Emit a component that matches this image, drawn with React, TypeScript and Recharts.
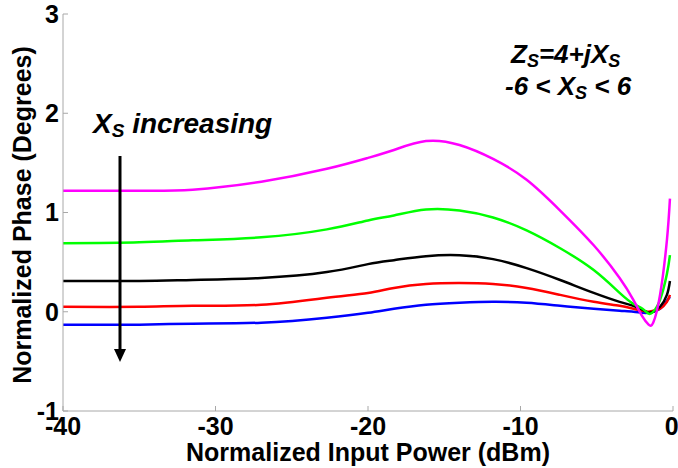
import React from 'react'
import { LineChart, Line, XAxis, YAxis, Label } from 'recharts'

// input power sweep (dBm)
const powerDbm = [-40, -35, -31.5, -27, -22.7, -20, -18.3, -16.2, -14, -11.8, -9.6, -7.4, -5.2, -3.5, -2.6, -2, -1.6, -1.3, -0.85, -0.4, -0.2]

// normalized phase (deg), one list per source reactance, top to bottom
const phaseMagenta = [1.22, 1.22, 1.23, 1.31, 1.44, 1.55, 1.63, 1.72, 1.68, 1.54, 1.33, 1.02, 0.67, 0.34, 0.12, -0.05, -0.13, -0.11, 0.17, 0.72, 1.14]
const phaseGreen = [0.69, 0.7, 0.72, 0.75, 0.83, 0.92, 0.97, 1.03, 1.02, 0.95, 0.82, 0.64, 0.42, 0.19, 0.08, 0.03, -0.02, 0.0, 0.12, 0.38, 0.57]
const phaseBlack = [0.31, 0.31, 0.32, 0.34, 0.4, 0.48, 0.52, 0.56, 0.57, 0.53, 0.44, 0.32, 0.19, 0.1, 0.06, 0.02, -0.01, 0.0, 0.05, 0.17, 0.31]
const phaseRed = [0.05, 0.05, 0.06, 0.07, 0.14, 0.19, 0.24, 0.28, 0.29, 0.28, 0.24, 0.17, 0.1, 0.06, 0.03, 0.01, 0.0, 0.01, 0.03, 0.1, 0.17]
const phaseBlue = [-0.13, -0.13, -0.12, -0.11, -0.06, -0.01, 0.03, 0.07, 0.09, 0.1, 0.09, 0.06, 0.03, 0.01, 0.0, -0.01, -0.01, 0.0, 0.03, 0.11, 0.15]

const xTicks = [-40, -30, -20, -10, 0]
const yTicks = [-1, 0, 1, 2, 3]

const FONT = '"Liberation Sans", Arial, sans-serif'
const FRAME = '#a8a8a8'

const data = powerDbm.map((p, i) => ({
  p,
  magenta: phaseMagenta[i],
  green: phaseGreen[i],
  black: phaseBlack[i],
  red: phaseRed[i],
  blue: phaseBlue[i],
}))

const tickFont = { fontSize: 25, fontWeight: 'bold', fill: '#000', fontFamily: FONT }

export default function App() {
  return (
    <div style={{ position: 'absolute', left: 0, top: 0, width: 678, height: 468, background: '#fff' }}>
      <LineChart
        width={678}
        height={468}
        data={data}
        margin={{ top: 14, right: 5, left: 0, bottom: 0 }}
      >
        <XAxis
          dataKey="p"
          type="number"
          domain={[-40, 0]}
          ticks={xTicks}
          height={57}
          stroke={FRAME}
          tickSize={-5}
          tickMargin={11}
          tick={tickFont}
        >
          <Label
            content={() => (
              <text x={368} y={461} textAnchor="middle" fontSize={25} fontWeight="bold" fontFamily={FONT} fill="#000">
                Normalized Input Power (dBm)
              </text>
            )}
          />
        </XAxis>
        <XAxis
          xAxisId="top"
          dataKey="p"
          type="number"
          orientation="top"
          domain={[-40, 0]}
          ticks={xTicks}
          height={0}
          stroke={FRAME}
          tickSize={-5}
          tick={false}
        />
        <YAxis
          type="number"
          domain={[-1, 3]}
          ticks={yTicks}
          width={63}
          stroke={FRAME}
          tickSize={-5}
          tickMargin={9}
          tick={tickFont}
        >
          <Label
            content={() => (
              <text
                x={31}
                y={215}
                transform="rotate(-90 31 215)"
                textAnchor="middle"
                fontSize={25}
                fontWeight="bold"
                fontFamily={FONT}
                fill="#000"
              >
                Normalized Phase (Degrees)
              </text>
            )}
          />
        </YAxis>
        <YAxis
          yAxisId="right"
          orientation="right"
          type="number"
          domain={[-1, 3]}
          ticks={yTicks}
          width={0}
          stroke={FRAME}
          tickSize={-5}
          tick={false}
        />
        <Line dataKey="blue" type="natural" stroke="#0000ff" strokeWidth={2.5} dot={false} isAnimationActive={false} />
        <Line dataKey="red" type="natural" stroke="#ff0000" strokeWidth={2.5} dot={false} isAnimationActive={false} />
        <Line dataKey="black" type="natural" stroke="#000000" strokeWidth={2.5} dot={false} isAnimationActive={false} />
        <Line dataKey="green" type="natural" stroke="#00ff00" strokeWidth={2.5} dot={false} isAnimationActive={false} />
        <Line dataKey="magenta" type="natural" stroke="#ff00ff" strokeWidth={2.5} dot={false} isAnimationActive={false} />
      </LineChart>

      {/* annotations */}
      <svg
        width={678}
        height={468}
        style={{ position: 'absolute', left: 0, top: 0, pointerEvents: 'none' }}
        fontFamily={FONT}
        fontWeight="bold"
        fontStyle="italic"
      >
        <text x={511} y={63} fontSize={26}>
          Z<tspan fontSize={18} dy={4}>S</tspan>
          <tspan dy={-4}>=4+jX</tspan>
          <tspan fontSize={18} dy={4}>S</tspan>
        </text>
        <text x={505} y={95} fontSize={26}>
          -6 &lt; X<tspan fontSize={18} dy={4}>S</tspan>
          <tspan dy={-4}> &lt; 6</tspan>
        </text>
        <text x={93} y={133} fontSize={28}>
          X<tspan fontSize={19} dy={4}>S</tspan>
          <tspan dy={-4}> increasing</tspan>
        </text>
        <line x1={120} y1={156} x2={120} y2={352} stroke="#000" strokeWidth={3} />
        <polygon points="114,349 126,349 120,362" fill="#000" />
      </svg>
    </div>
  )
}
